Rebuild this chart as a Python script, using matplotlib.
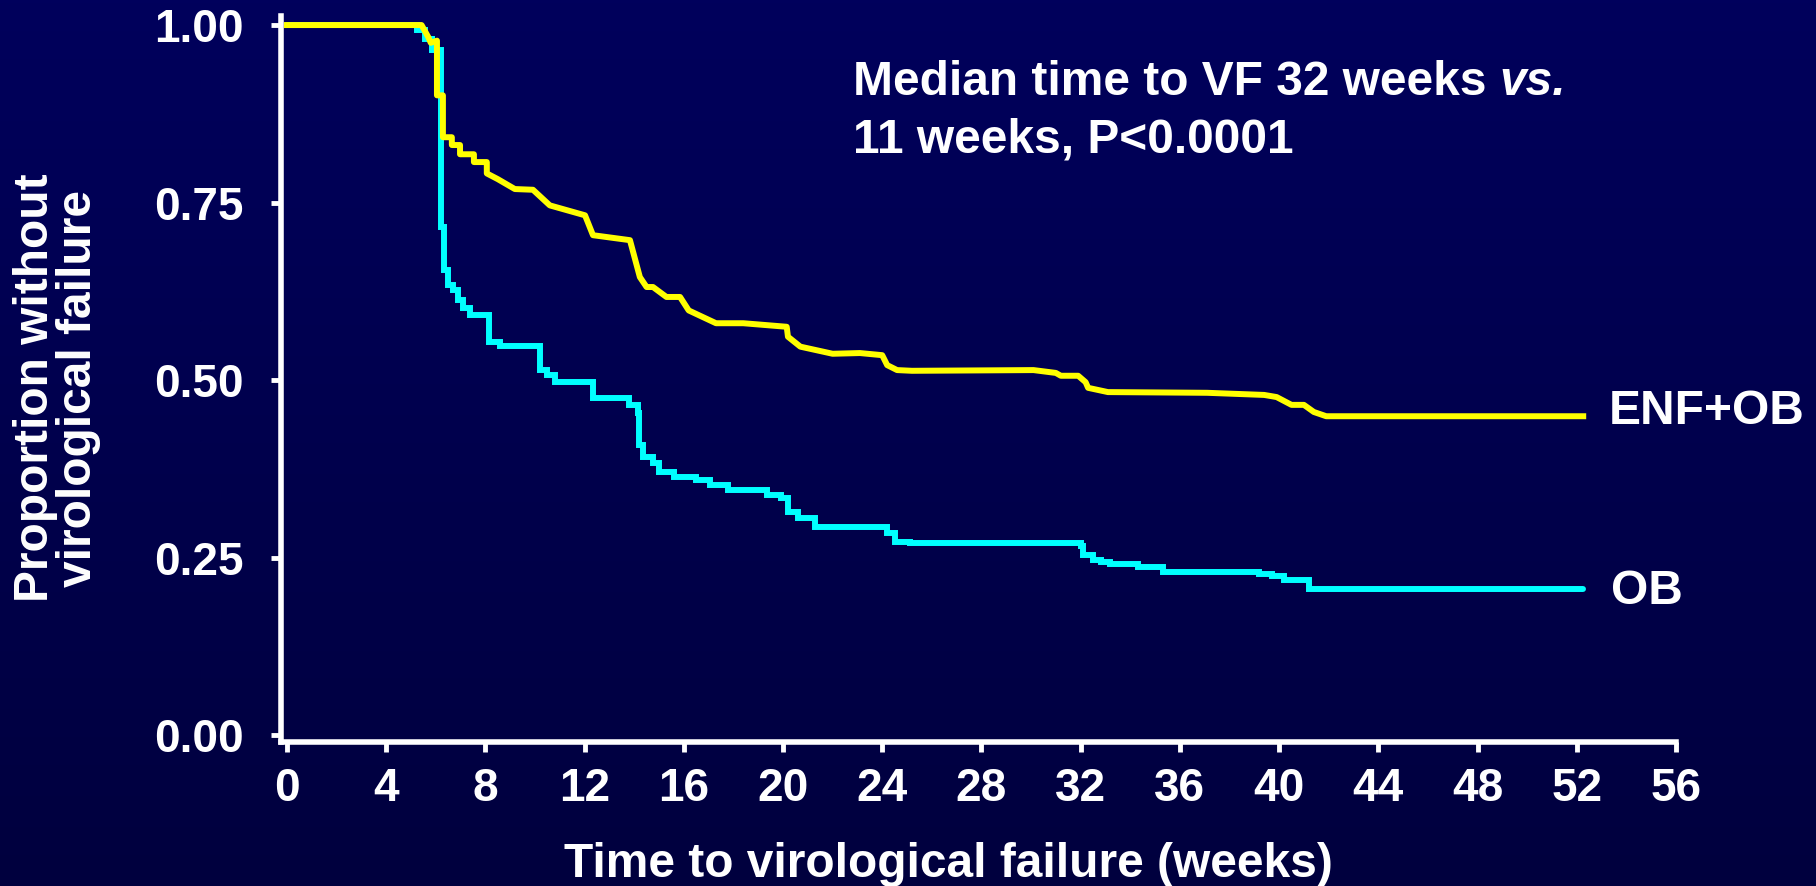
import matplotlib
matplotlib.use("Agg")
import matplotlib.pyplot as plt
import numpy as np

# ENF+OB arm (yellow)
enf_weeks = [0, 5.43, 5.70, 5.80, 6.05, 6.05, 6.29, 6.29, 6.65, 6.65, 6.98, 6.98,
             7.54, 7.54, 8.06, 8.06, 8.5, 9.19, 9.92, 10.6, 12.02, 12.34, 13.83,
             14.23, 14.5, 14.76, 15.3, 15.85, 16.2, 17.3, 18.4, 20.15, 20.2, 20.7,
             22.0, 23.1, 24.0, 24.2, 24.6, 25.2, 30.1, 31.0, 31.2, 31.9, 32.2,
             32.3, 33.1, 37.1, 39.4, 39.9, 40.5, 41.0, 41.4, 41.9, 52.26]
enf_surv = [1.0, 1.0, 0.983, 0.975, 0.978, 0.901, 0.901, 0.842, 0.842, 0.831, 0.831,
            0.818, 0.818, 0.807, 0.807, 0.791, 0.783, 0.769, 0.768, 0.746, 0.732,
            0.704, 0.697, 0.645, 0.631, 0.631, 0.617, 0.617, 0.598, 0.580, 0.580,
            0.575, 0.561, 0.547, 0.537, 0.538, 0.535, 0.521, 0.514, 0.513, 0.514,
            0.510, 0.506, 0.506, 0.497, 0.489, 0.483, 0.482, 0.479, 0.476, 0.465,
            0.465, 0.455, 0.449, 0.449]

# OB arm (cyan), step function: value holds from each time to the next
ob_weeks = [0, 5.24, 5.56, 5.85, 6.2, 6.33, 6.5, 6.7, 6.9, 7.1, 7.4, 8.15, 8.6,
            10.2, 10.5, 10.8, 12.35, 13.8, 14.15, 14.2, 14.35, 14.76, 15.0, 15.6,
            16.5, 17.06, 17.8, 19.35, 19.9, 20.2, 20.6, 21.3, 24.2, 24.5, 25.1,
            32.0, 32.1, 32.5, 32.8, 33.2, 34.3, 35.3, 39.2, 39.7, 40.2, 41.2, 52.26]
ob_surv = [1.0, 0.993, 0.980, 0.965, 0.716, 0.655, 0.634, 0.627, 0.613, 0.601,
           0.592, 0.554, 0.548, 0.514, 0.507, 0.497, 0.475, 0.465, 0.454, 0.408,
           0.392, 0.383, 0.371, 0.364, 0.359, 0.352, 0.345, 0.338, 0.334, 0.314,
           0.306, 0.293, 0.284, 0.272, 0.270, 0.266, 0.254, 0.247, 0.243, 0.241,
           0.237, 0.230, 0.227, 0.224, 0.218, 0.206, 0.206]

x_ticks = list(range(0, 57, 4))
y_ticks = [0.0, 0.25, 0.5, 0.75, 1.0]
y_ticklabels = ["0.00", "0.25", "0.50", "0.75", "1.00"]

plt.rcParams["font.family"] = ["Liberation Sans", "DejaVu Sans"]
plt.rcParams["font.weight"] = "bold"

fig = plt.figure(figsize=(18.16, 8.86), dpi=100)

# vertical navy gradient behind everything
bg = fig.add_axes([0, 0, 1, 1], zorder=-1)
top = np.array([0, 0, 92]) / 255
bottom = np.array([0, 0, 62]) / 255
grad = np.linspace(0, 1, 256)[:, None, None]
bg.imshow(top * (1 - grad) + bottom * grad, aspect="auto", extent=[0, 1, 0, 1])
bg.set_axis_off()

ax = fig.add_axes([0.1547, 0.1625, 0.7682, 0.8194])
ax.set_facecolor("none")

ax.plot(ob_weeks, ob_surv, color="#00FFFF", lw=4.3, drawstyle="steps-post",
        solid_joinstyle="miter", solid_capstyle="round")
ax.plot(enf_weeks, enf_surv, color="#FFFF00", lw=4.3, solid_joinstyle="round")

ax.set_xlim(-0.24, 56.0)
ax.set_ylim(-0.0099, 1.0127)
ax.set_xticks(x_ticks)
ax.set_yticks(y_ticks)
ax.set_yticklabels(y_ticklabels)

for side in ("top", "right"):
    ax.spines[side].set_visible(False)
for side in ("left", "bottom"):
    ax.spines[side].set_color("white")
    ax.spines[side].set_linewidth(4)

ax.tick_params(axis="both", colors="white", width=3.5, length=7, labelsize=33)
ax.tick_params(axis="y", pad=20)
ax.tick_params(axis="x", pad=11)

txt = dict(color="white", fontweight="bold", fontsize=34.5)

fig.text(948 / 1816, 1 - 877 / 886, "Time to virological failure (weeks)",
         ha="center", va="baseline", **txt)
fig.text(0.0315, 0.562, "Proportion without\nvirological failure", rotation=90,
         ha="center", va="center", multialignment="center", linespacing=0.95, **txt)

line1 = fig.text(853 / 1816, 1 - 95 / 886, "Median time to VF 32 weeks", ha="left",
                 va="baseline", **txt)
fig.canvas.draw()
ax.annotate("vs.", xy=(1, 0), xycoords=line1, xytext=(9, 0),
            textcoords="offset points", ha="left", va="bottom",
            fontstyle="italic", **txt)
fig.text(853 / 1816, 1 - 152 / 886, "11 weeks, P<0.0001", ha="left", va="baseline", **txt)

ax.text(53.27, 0.438, "ENF+OB", ha="left", va="baseline", clip_on=False, **txt)
ax.text(53.4, 0.1845, "OB", ha="left", va="baseline", clip_on=False, **txt)

fig.savefig("out.png", dpi=100, facecolor=fig.get_facecolor())
